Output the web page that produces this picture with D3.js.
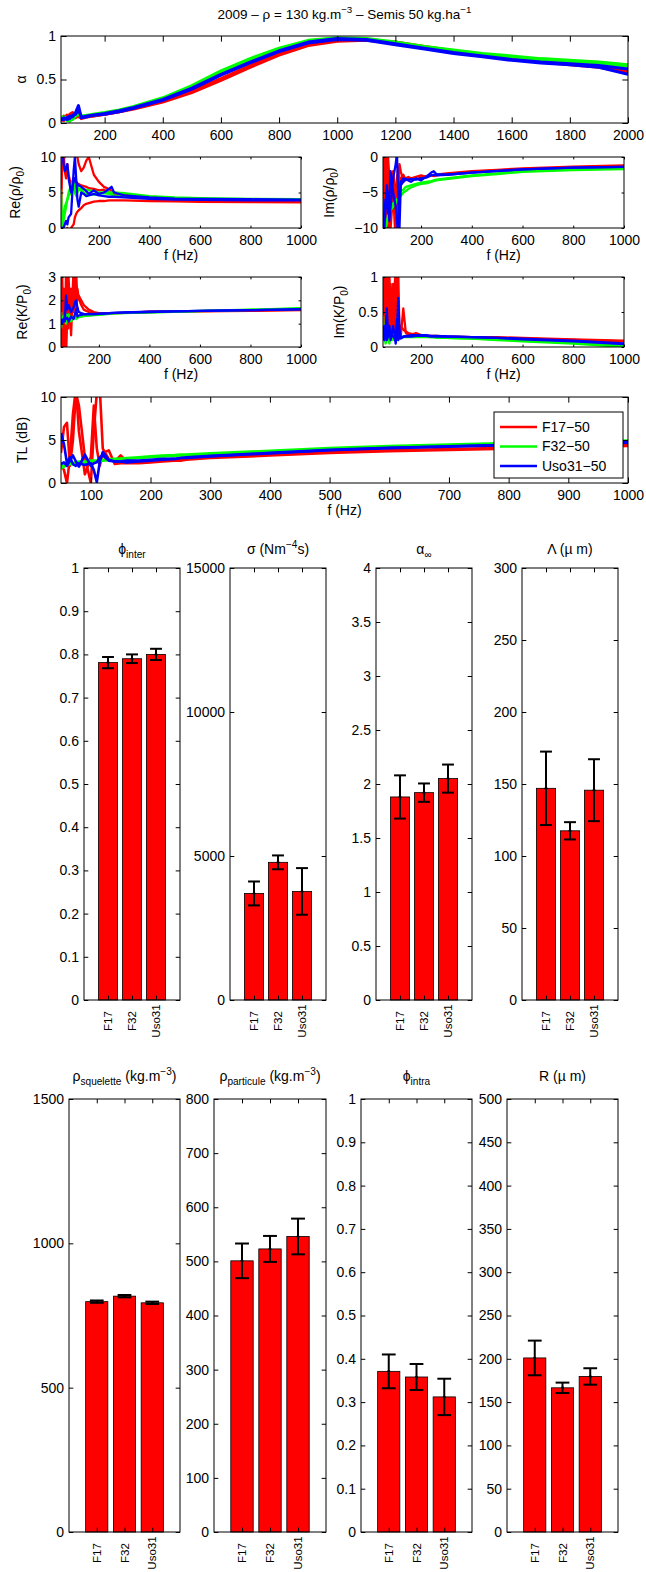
<!DOCTYPE html>
<html><head><meta charset="utf-8">
<script src="https://cdn.jsdelivr.net/npm/d3@7"></script>
<style>
body{margin:0;background:#fff;}
svg{display:block;background:#fff;}
</style></head><body>
<svg id="chart" width="646" height="1572"></svg>
<script>
// ---------------- DATA ----------------
const categories = ["F17", "F32", "Uso31"];
const groupColors = ["#ff0000", "#00ff00", "#0000ff"];
const legendLabels = ["F17\u221250", "F32\u221250", "Uso31\u221250"];

// frequency grids (Hz)
const freqAlpha = [50,60,70,80,90,100,110,120,140,160,200,250,300,400,500,600,700,800,900,1000,1100,1200,1300,1400,1500,1600,1700,1800,1900,2000];
const freq = [50,55,60,65,70,75,80,90,100,105,110,115,120,130,140,150,160,180,200,220,240,250,260,300,400,500,600,800,1000];

// absorption coefficient alpha (two measurements per group)
const alphaF17 = [
  [0.02,0.08,0.04,0.1,0.12,0.06,0.1,0.05,0.07,0.08,0.1,0.13,0.16,0.24,0.35,0.49,0.64,0.78,0.89,0.94,0.95,0.93,0.88,0.83,0.78,0.74,0.71,0.68,0.65,0.6],
  [0.05,0.03,0.09,0.06,0.08,0.11,0.07,0.06,0.08,0.08,0.1,0.13,0.17,0.25,0.37,0.51,0.66,0.8,0.9,0.95,0.95,0.92,0.87,0.82,0.77,0.73,0.70,0.67,0.64,0.58]
];
const alphaF32 = [
  [0.08,0.05,0.03,0.02,0.06,0.09,0.12,0.08,0.09,0.1,0.12,0.15,0.19,0.29,0.43,0.60,0.74,0.86,0.95,0.98,0.97,0.93,0.88,0.84,0.80,0.77,0.74,0.72,0.70,0.67],
  [0.04,0.07,0.05,0.06,0.04,0.08,0.1,0.07,0.08,0.09,0.11,0.14,0.18,0.28,0.41,0.58,0.72,0.85,0.94,0.97,0.96,0.92,0.87,0.83,0.79,0.76,0.73,0.71,0.69,0.65]
];
const alphaUso31 = [
  [0.05,0.04,0.06,0.08,0.07,0.12,0.2,0.06,0.08,0.09,0.11,0.14,0.18,0.27,0.40,0.56,0.70,0.83,0.93,0.97,0.96,0.91,0.86,0.81,0.77,0.73,0.70,0.68,0.66,0.62],
  [0.03,0.06,0.04,0.05,0.09,0.1,0.15,0.07,0.07,0.09,0.1,0.13,0.17,0.26,0.39,0.55,0.69,0.82,0.92,0.96,0.95,0.90,0.85,0.80,0.76,0.72,0.69,0.67,0.64,0.56]
];

// Re(rho/rho0)
const reRhoF17 = [
  [0,12,11,10,11,12,11,12,11,10.5,11,10,9,8,8.5,9.5,10,7.5,6.5,5.8,5.5,5.2,5,4.7,4.3,4.1,4.0,3.9,3.8],
  [5,12,11,8,7,9,7.5,6,7,6.8,6.5,6.3,6.2,6,5.9,5.8,5.6,5.5,5.3,5.4,5.0,4.9,4.8,4.6,4.2,4.0,3.9,3.8,3.75],
  [-2,-3,-2,-1,-1,0,-0.5,0,0.5,1.5,2,2.3,2.5,2.8,3.2,3.4,3.5,3.7,3.8,3.8,3.9,3.9,3.9,3.9,3.8,3.75,3.7,3.65,3.6]
];
const reRhoF32 = [
  [0,1,2,3,3.5,4,4.5,5,5.5,5.8,6,5.8,5.5,5.5,5.4,5.4,5.3,5.2,5.0,5.0,5.0,5.0,5.0,4.9,4.5,4.3,4.2,4.1,4.05],
  [5.5,0,1,2,3,4,5,6,7,5,4.5,5,5.5,5.3,5,4.8,4.7,4.7,4.8,4.9,4.8,4.7,4.6,4.4,4.2,4.1,4.05,4.0,3.98]
];
const reRhoUso31 = [
  [10,12,9,8,8.5,9,7,5,6.5,7,6.5,6.2,6,5.8,5.5,5.2,4.8,5.3,4.8,5,5.5,5.8,5,4.6,4.3,4.15,4.1,4.05,4.0],
  [0,0,0,0.5,1,0.5,1.5,2,8,10,7,4,3,5,4.8,4.5,4.6,4.8,4.6,4.5,4.4,4.4,4.4,4.3,4.1,4.0,3.95,3.9,3.9]
];

// Im(rho/rho0)
const imRhoF17 = [
  [0,-8,2,-12,0,-3,-10,-5,-12,-8,-3,-1,-2,-3.5,-3,-2.8,-3,-2.8,-2.6,-2.8,-2.5,-2.6,-2.5,-2.3,-2.0,-1.8,-1.6,-1.35,-1.2],
  [-10,-3,-7,-1,-9,-11,-4,-2,-6,-3,-1.5,-4,-3,-2.5,-3.2,-3.1,-3,-3.1,-2.9,-2.7,-2.6,-2.7,-2.6,-2.4,-2.1,-1.9,-1.7,-1.45,-1.3]
];
const imRhoF32 = [
  [-9,-8.5,-10,-9.5,-8,-8,-7.5,-7,-6.5,-6,-5.8,-5.5,-5.5,-5,-4.8,-4.5,-4.3,-4,-3.8,-3.7,-3.5,-3.4,-3.3,-3.1,-2.7,-2.4,-2.1,-1.85,-1.7],
  [-10,-9,-9.5,-9,-8.5,-7,-7,-6.5,-6.2,-6,-6,-5,-4.8,-4.6,-4.2,-4.1,-4,-3.8,-3.6,-3.5,-3.4,-3.3,-3.2,-3.0,-2.6,-2.3,-2.0,-1.75,-1.6]
];
const imRhoUso31 = [
  [-10,-8,-6,-7,-5,-9,-7,-3,-1,0.5,-5,-10,-4,-3.5,-3.2,-3.3,-3.5,-3,-3.3,-2.8,-2.2,-2.0,-2.4,-2.5,-2.2,-2.0,-1.75,-1.5,-1.4],
  [-9,-10.5,-7,-4,-8,-6,-2,-5,-7,-9,-11,-6,-3.5,-3,-3.1,-3.2,-3.1,-3.2,-3,-2.9,-2.6,-2.5,-2.6,-2.5,-2.2,-1.95,-1.75,-1.5,-1.4]
];

// Re(K/P0)
const reKF17 = [
  [3.5,0,2.5,-0.5,3.5,1.0,3,0.5,3.5,2.5,3.2,2.0,2.2,2.0,1.8,1.7,1.6,1.5,1.45,1.45,1.45,1.45,1.45,1.46,1.5,1.53,1.53,1.55,1.58],
  [1,3,0,2,-0.5,1.5,0.8,2.5,1.5,3.5,1.5,2.5,2.1,1.8,1.6,1.55,1.5,1.45,1.42,1.43,1.44,1.44,1.45,1.46,1.51,1.54,1.54,1.57,1.6]
];
const reKF32 = [
  [1.5,1.0,1.3,1.2,1.4,1.3,1.4,1.2,1.3,1.3,1.35,1.3,1.3,1.32,1.33,1.35,1.36,1.38,1.4,1.42,1.43,1.44,1.45,1.46,1.49,1.52,1.55,1.6,1.66],
  [0.8,1.2,1.1,1.3,1.0,1.2,1.3,1.1,1.25,1.3,1.2,1.25,1.28,1.3,1.32,1.34,1.35,1.37,1.38,1.4,1.42,1.43,1.44,1.45,1.48,1.51,1.54,1.59,1.64]
];
const reKUso31 = [
  [1.0,1.1,1.2,1.1,2.2,1.6,1.8,1.5,1.7,1.9,2.0,1.7,1.5,1.45,1.42,1.4,1.42,1.4,1.42,1.43,1.44,1.45,1.46,1.47,1.5,1.53,1.55,1.58,1.62],
  [1.2,1.0,1.15,1.3,1.2,1.25,1.1,1.3,1.2,1.4,1.6,1.3,1.35,1.38,1.4,1.41,1.41,1.42,1.43,1.44,1.45,1.46,1.46,1.48,1.51,1.53,1.55,1.58,1.61]
];

// Im(K/P0)
const imKF17 = [
  [0.4,1.2,0.1,1.2,0.3,1.1,0.2,0.9,0.1,1.2,0.3,0.2,0.15,0.55,0.2,0.18,0.17,0.2,0.17,0.16,0.16,0.16,0.16,0.15,0.14,0.14,0.13,0.11,0.09],
  [1.1,0.2,0.9,0.5,1.2,0.6,0.9,0.3,1.2,0.5,1.1,0.2,0.3,0.25,0.22,0.2,0.19,0.18,0.16,0.16,0.15,0.15,0.15,0.14,0.14,0.13,0.12,0.1,0.08]
];
const imKF32 = [
  [0.45,0.1,0.2,0.15,0.1,0.2,0.1,0.15,0.12,0.1,0.12,0.13,0.13,0.14,0.14,0.14,0.14,0.14,0.14,0.14,0.14,0.14,0.13,0.13,0.12,0.1,0.08,0.05,0.0],
  [0.3,0.2,0.05,0.1,0.2,0.05,0.15,0.1,0.15,0.12,0.1,0.12,0.14,0.15,0.15,0.15,0.15,0.15,0.15,0.15,0.14,0.14,0.14,0.13,0.12,0.11,0.09,0.06,0.02]
];
const imKUso31 = [
  [0.1,0.3,0.15,0.55,0.2,0.25,0.1,0.3,0.05,0.2,0.7,0.25,0.12,0.15,0.16,0.16,0.17,0.17,0.17,0.17,0.16,0.16,0.16,0.15,0.14,0.13,0.12,0.09,0.05],
  [0.2,0.1,0.25,0.1,0.15,0.3,0.2,0.15,0.1,0.4,0.1,0.15,0.14,0.14,0.15,0.15,0.15,0.16,0.16,0.16,0.15,0.15,0.15,0.15,0.14,0.13,0.11,0.08,0.04]
];

// Transmission loss TL (dB)
const tlF17 = [
  [3.5,6.5,7,2,5,10.5,9,3,0,6,10.5,11,4,2.8,2.5,3.2,2.5,2.4,2.5,2.6,2.7,2.7,2.8,3.0,3.3,3.6,3.8,4.1,4.4],
  [2,1.5,0,3,8,11,6,1,3,9,4,2,3.5,3.8,2.2,2.3,2.3,2.3,2.4,2.5,2.6,2.6,2.7,2.9,3.2,3.5,3.7,4.0,4.3]
];
const tlF32 = [
  [2.0,2.2,2.3,2.4,2.3,2.4,2.5,2.5,2.6,2.6,2.6,2.7,2.7,2.75,2.8,2.85,2.9,3.0,3.1,3.2,3.25,3.3,3.3,3.45,3.75,4.05,4.3,4.65,4.95],
  [1.7,1.9,2.1,2.2,2.2,2.3,2.3,2.4,2.5,2.5,2.5,2.6,2.6,2.65,2.7,2.75,2.8,2.9,3.0,3.1,3.15,3.2,3.2,3.35,3.65,3.95,4.2,4.55,4.85]
];
const tlUso31 = [
  [5.8,4.5,2.3,3.0,2.2,2.0,2.3,2.1,2.3,1.5,0.1,2.5,3.6,2.7,2.5,2.5,2.4,2.5,2.6,2.7,2.8,2.9,2.9,3.1,3.45,3.8,4.05,4.4,4.7],
  [2.2,2.4,2.0,2.6,3.2,2.5,1.9,3.3,2.0,2.3,2.4,3.0,3.2,2.6,2.5,2.5,2.6,2.6,2.7,2.8,2.8,2.9,3.0,3.15,3.5,3.85,4.1,4.45,4.75]
];

// tick values
const ticksAlphaX = [200,400,600,800,1000,1200,1400,1600,1800,2000];
const ticksFreqX = [200,400,600,800,1000];
const ticksTLX = [100,200,300,400,500,600,700,800,900,1000];

// bar parameters (mean, error)
const phiInter = [0.781, 0.790, 0.800],   phiInterErr = [0.013, 0.010, 0.013];
const sigma = [3700, 4780, 3770],          sigmaErr = [415, 240, 810];
const alphaInf = [1.88, 1.92, 2.05],       alphaInfErr = [0.20, 0.085, 0.13];
const lambdaV = [147, 117.5, 145.7],       lambdaErr = [25.5, 6, 21.5];
const rhoSquelette = [798, 817, 794],      rhoSqueletteErr = [4, 4, 4];
const rhoParticule = [501, 523, 546],      rhoParticuleErr = [32, 24, 33];
const phiIntra = [0.371, 0.358, 0.312],    phiIntraErr = [0.039, 0.030, 0.042];
const radiusR = [201, 166.5, 179.6],       radiusRErr = [20, 6, 9.5];

// ---------------- DRAWING ----------------
const FONT = '"Liberation Sans", Arial, Helvetica, sans-serif';
const FS = 14;
const svg = d3.select("#chart");
svg.append("rect").attr("width", 646).attr("height", 1572).attr("fill", "#fff");
let clipN = 0;
const fmt = d => String(d).replace("-", "\u2212");

function rich(textSel, parts, fs) {
  let cur = 0;
  parts.forEach(([t, lvl]) => {
    const off = lvl === -1 ? 0.3 * fs : (lvl === 1 ? -0.42 * fs : 0);
    textSel.append("tspan").attr("dy", off - cur).attr("font-size", lvl ? fs * 0.72 : fs).text(t);
    cur = off;
  });
}
function styleAxis(sel) {
  sel.attr("font-size", FS).attr("font-family", FONT);
  sel.select(".domain").remove();
  sel.selectAll("line").attr("stroke", "#000");
  sel.selectAll("text").attr("fill", "#000");
}
function frame(g, x, y, o, xt, yt, tl, showX, xpad) {
  g.append("g").attr("transform", `translate(0,${o.y1})`)
    .call(d3.axisBottom(x).tickValues(xt).tickSize(-tl).tickPadding(xpad).tickFormat(showX ? fmt : () => ""))
    .call(styleAxis);
  g.append("g").attr("transform", `translate(0,${o.y0})`)
    .call(d3.axisTop(x).tickValues(xt).tickSize(-tl).tickFormat(() => "")).call(styleAxis);
  g.append("g").attr("transform", `translate(${o.x0},0)`)
    .call(d3.axisLeft(y).tickValues(yt).tickSize(-tl).tickPadding(5).tickFormat(fmt)).call(styleAxis);
  g.append("g").attr("transform", `translate(${o.x1},0)`)
    .call(d3.axisRight(y).tickValues(yt).tickSize(-tl).tickFormat(() => "")).call(styleAxis);
  g.append("rect").attr("x", o.x0).attr("y", o.y0).attr("width", o.x1 - o.x0).attr("height", o.y1 - o.y0)
    .attr("fill", "none").attr("stroke", "#000").attr("stroke-width", 1);
}
function yLabel(x, yc, parts, fs) {
  const t = svg.append("text").attr("transform", `translate(${x},${yc}) rotate(-90)`)
    .attr("text-anchor", "middle").attr("font-family", FONT).attr("font-size", fs).attr("dy", "0.35em");
  if (typeof parts === "string") t.text(parts); else rich(t, parts, fs);
}
function hText(x, y, parts, fs) {
  const t = svg.append("text").attr("x", x).attr("y", y).attr("text-anchor", "middle")
    .attr("font-family", FONT).attr("font-size", fs);
  if (typeof parts === "string") t.text(parts); else rich(t, parts, fs);
}

function linePlot(o) {
  const g = svg.append("g");
  const x = d3.scaleLinear().domain(o.xd).range([o.x0, o.x1]);
  const y = d3.scaleLinear().domain(o.yd).range([o.y1, o.y0]);
  const id = "clip" + (clipN++);
  svg.append("clipPath").attr("id", id).append("rect")
    .attr("x", o.x0).attr("y", o.y0).attr("width", o.x1 - o.x0).attr("height", o.y1 - o.y0);
  const line = d3.line().x((d, i) => x(o.f[i])).y(d => y(d));
  const lg = g.append("g").attr("clip-path", `url(#${id})`);
  o.groups.forEach((curves, gi) => curves.forEach(c =>
    lg.append("path").attr("d", line(c)).attr("fill", "none")
      .attr("stroke", groupColors[gi]).attr("stroke-width", o.sw || 2.3).attr("stroke-linejoin", "round")));
  const tl = 0.01 * Math.max(o.x1 - o.x0, o.y1 - o.y0);
  frame(g, x, y, o, o.xt, o.yt, tl, true, 7);
  yLabel(o.ylx, (o.y0 + o.y1) / 2, o.ylabel, FS);
  if (o.xlabel) hText((o.x0 + o.x1) / 2, o.y1 + 32, "f (Hz)", FS);
  return {g, x, y};
}

// title
hText(344.5, 19, [["2009 \u2013 \u03c1 = 130 kg.m", 0], ["\u22123", 1], [" \u2013 Semis 50 kg.ha", 0], ["\u22121", 1]], 13.5);

linePlot({x0: 61, x1: 628, y0: 36, y1: 123, xd: [50, 2000], yd: [0, 1], f: freqAlpha, sw: 3,
  groups: [alphaF17, alphaF32, alphaUso31], xt: ticksAlphaX, yt: [0, 0.5, 1], ylx: 21, ylabel: "\u03b1", xlabel: false});
linePlot({x0: 61, x1: 301, y0: 157, y1: 228, xd: [50, 1000], yd: [0, 10], f: freq,
  groups: [reRhoF17, reRhoF32, reRhoUso31], xt: ticksFreqX, yt: [0, 5, 10], ylx: 20,
  ylabel: [["Re(\u03c1/\u03c1", 0], ["0", -1], [")", 0]], xlabel: true});
linePlot({x0: 383, x1: 624, y0: 157, y1: 228, xd: [50, 1000], yd: [-10, 0], f: freq,
  groups: [imRhoF17, imRhoF32, imRhoUso31], xt: ticksFreqX, yt: [-10, -5, 0], ylx: 334,
  ylabel: [["Im(\u03c1/\u03c1", 0], ["0", -1], [")", 0]], xlabel: true});
linePlot({x0: 61, x1: 301, y0: 277, y1: 347, xd: [50, 1000], yd: [0, 3], f: freq,
  groups: [reKF17, reKF32, reKUso31], xt: ticksFreqX, yt: [0, 1, 2, 3], ylx: 27,
  ylabel: [["Re(K/P", 0], ["0", -1], [")", 0]], xlabel: true});
linePlot({x0: 383, x1: 624, y0: 277, y1: 347, xd: [50, 1000], yd: [0, 1], f: freq,
  groups: [imKF17, imKF32, imKUso31], xt: ticksFreqX, yt: [0, 0.5, 1], ylx: 344,
  ylabel: [["Im(K/P", 0], ["0", -1], [")", 0]], xlabel: true});
linePlot({x0: 61, x1: 628, y0: 397, y1: 483, xd: [50, 1000], yd: [0, 10], f: freq, sw: 2.6,
  groups: [tlF17, tlF32, tlUso31], xt: ticksTLX, yt: [0, 5, 10], ylx: 22, ylabel: "TL (dB)", xlabel: true});

// legend
const lgd = svg.append("g");
lgd.append("rect").attr("x", 494).attr("y", 412).attr("width", 129).attr("height", 66)
  .attr("fill", "#fff").attr("stroke", "#000").attr("stroke-width", 1);
legendLabels.forEach((lab, i) => {
  const yy = 427 + i * 19.5;
  lgd.append("line").attr("x1", 500).attr("x2", 537).attr("y1", yy).attr("y2", yy)
    .attr("stroke", groupColors[i]).attr("stroke-width", 2.3);
  lgd.append("text").attr("x", 542).attr("y", yy).attr("dy", "0.35em")
    .attr("font-family", FONT).attr("font-size", FS).text(lab);
});

// bar charts
function barPlot(o) {
  const g = svg.append("g");
  const x = d3.scaleLinear().domain([0, 4]).range([o.x0, o.x1]);
  const y = d3.scaleLinear().domain([0, o.ymax]).range([o.y1, o.y0]);
  const bw = x(0.8) - x(0);
  g.selectAll("rect.bar").data(o.values).join("rect").attr("class", "bar")
    .attr("x", (d, i) => x(i + 1) - bw / 2).attr("width", bw)
    .attr("y", d => y(d)).attr("height", d => y(0) - y(d))
    .attr("fill", "#ff0000").attr("stroke", "#000").attr("stroke-width", 0.8);
  const tl = 0.01 * Math.max(o.x1 - o.x0, o.y1 - o.y0);
  frame(g, x, y, o, [1, 2, 3], o.yt, tl, false, 5);
  const cap = bw * 0.62;
  o.values.forEach((v, i) => {
    const cx = x(i + 1), e = o.errs[i];
    g.append("line").attr("x1", cx).attr("x2", cx).attr("y1", y(v - e)).attr("y2", y(v + e))
      .attr("stroke", "#000").attr("stroke-width", 2);
    [v - e, v + e].forEach(w => g.append("line").attr("x1", cx - cap / 2).attr("x2", cx + cap / 2)
      .attr("y1", y(w)).attr("y2", y(w)).attr("stroke", "#000").attr("stroke-width", 2));
    g.append("circle").attr("cx", cx).attr("cy", y(v)).attr("r", 1.5).attr("fill", "#000");
  });
  categories.forEach((c, i) => {
    g.append("text").attr("transform", `translate(${x(i + 1)},${o.y1 + 21}) rotate(-90)`)
      .attr("text-anchor", "middle").attr("dy", "0.35em")
      .attr("font-family", FONT).attr("font-size", 11.5).text(c);
  });
  hText((o.x0 + o.x1) / 2, o.ty, o.title, 14);
}

const r1 = {y0: 568, y1: 1000, ty: 554};
const r2 = {y0: 1099, y1: 1532, ty: 1081};
const d01 = [0, 0.1, 0.2, 0.3, 0.4, 0.5, 0.6, 0.7, 0.8, 0.9, 1];
barPlot({...r1, x0: 84, x1: 180, ymax: 1, yt: d01, values: phiInter, errs: phiInterErr,
  title: [["\u03d5", 0], ["inter", -1]]});
barPlot({...r1, x0: 230, x1: 326, ymax: 15000, yt: [0, 5000, 10000, 15000], values: sigma, errs: sigmaErr,
  title: [["\u03c3 (Nm", 0], ["\u22124", 1], ["s)", 0]]});
barPlot({...r1, x0: 376, x1: 472, ymax: 4, yt: [0, 0.5, 1, 1.5, 2, 2.5, 3, 3.5, 4], values: alphaInf, errs: alphaInfErr,
  title: [["\u03b1", 0], ["\u221e", -1]]});
barPlot({...r1, x0: 522, x1: 618, ymax: 300, yt: [0, 50, 100, 150, 200, 250, 300], values: lambdaV, errs: lambdaErr,
  title: "\u039b (\u00b5 m)"});
barPlot({...r2, x0: 69, x1: 180, ymax: 1500, yt: [0, 500, 1000, 1500], values: rhoSquelette, errs: rhoSqueletteErr,
  title: [["\u03c1", 0], ["squelette", -1], [" (kg.m", 0], ["\u22123", 1], [")", 0]]});
barPlot({...r2, x0: 214, x1: 326, ymax: 800, yt: [0, 100, 200, 300, 400, 500, 600, 700, 800], values: rhoParticule, errs: rhoParticuleErr,
  title: [["\u03c1", 0], ["particule", -1], [" (kg.m", 0], ["\u22123", 1], [")", 0]]});
barPlot({...r2, x0: 361, x1: 472, ymax: 1, yt: d01, values: phiIntra, errs: phiIntraErr,
  title: [["\u03d5", 0], ["intra", -1]]});
barPlot({...r2, x0: 507, x1: 618, ymax: 500, yt: [0, 50, 100, 150, 200, 250, 300, 350, 400, 450, 500], values: radiusR, errs: radiusRErr,
  title: "R (\u00b5 m)"});
</script>
</body></html>
